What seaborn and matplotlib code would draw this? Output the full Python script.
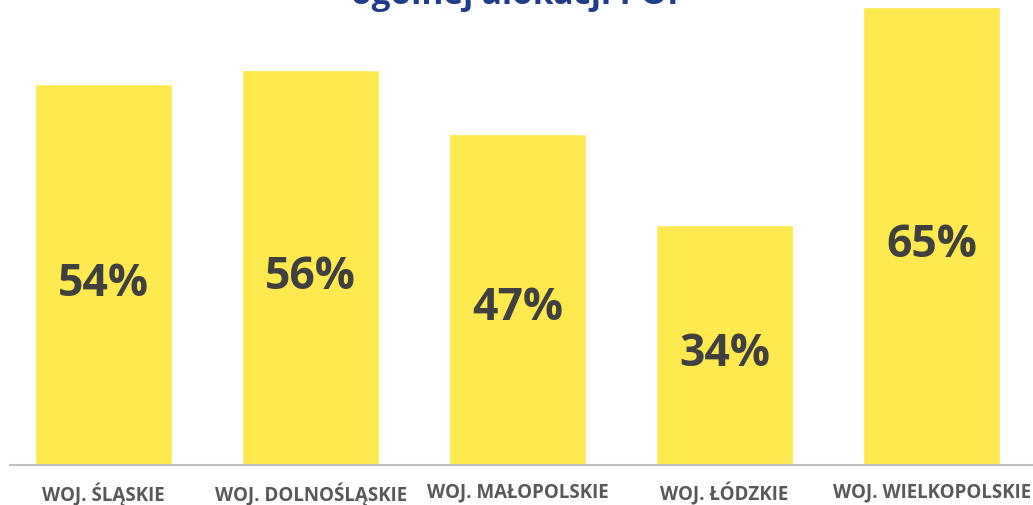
import matplotlib
matplotlib.use("Agg")
import matplotlib.pyplot as plt
import seaborn as sns
import pandas as pd

# data
regions = ["WOJ. ŚLĄSKIE", "WOJ. DOLNOŚLĄSKIE", "WOJ. MAŁOPOLSKIE", "WOJ. ŁÓDZKIE", "WOJ. WIELKOPOLSKIE"]
shares = [54, 56, 47, 34, 65]
title = "ogólnej alokacji POP"

df = pd.DataFrame({"region": regions, "share": shares})

sns.set_style("white")
plt.rcParams["font.family"] = ["Open Sans", "DejaVu Sans"]

fig = plt.figure(figsize=(10.33, 5.06), dpi=100)
ax = fig.add_axes([10 / 1033, 40 / 506, 1023 / 1033, 466 / 506])

sns.barplot(data=df, x="region", y="share", color="#FFE94F", saturation=1,
            width=0.66, ax=ax)

# value labels in the middle of each bar
for i, v in enumerate(shares):
    ax.text(i, v / 2 - 1.2, f"{v}%", ha="center", va="center",
            fontsize=32, fontweight="bold", color="#404040")

ax.set_xlim(-0.452, 4.49)
ax.set_ylim(0, 66.1)
ax.set_xlabel("")
ax.set_ylabel("")
ax.set_yticks([])
ax.tick_params(axis="x", length=0, pad=12)
for lbl in ax.get_xticklabels():
    lbl.set_fontsize(13.5)
    lbl.set_fontweight("bold")
    lbl.set_color("#595959")

for s in ["top", "right", "left"]:
    ax.spines[s].set_visible(False)
ax.spines["bottom"].set_color("#BFBFBF")
ax.spines["bottom"].set_linewidth(1.5)

# title, mostly cut off at the top edge
fig.text(0.503, 1 - 4 / 506, title, ha="center", va="baseline",
         fontsize=24, fontweight="bold", color="#1F3C88")

fig.savefig("out.png", dpi=100)
